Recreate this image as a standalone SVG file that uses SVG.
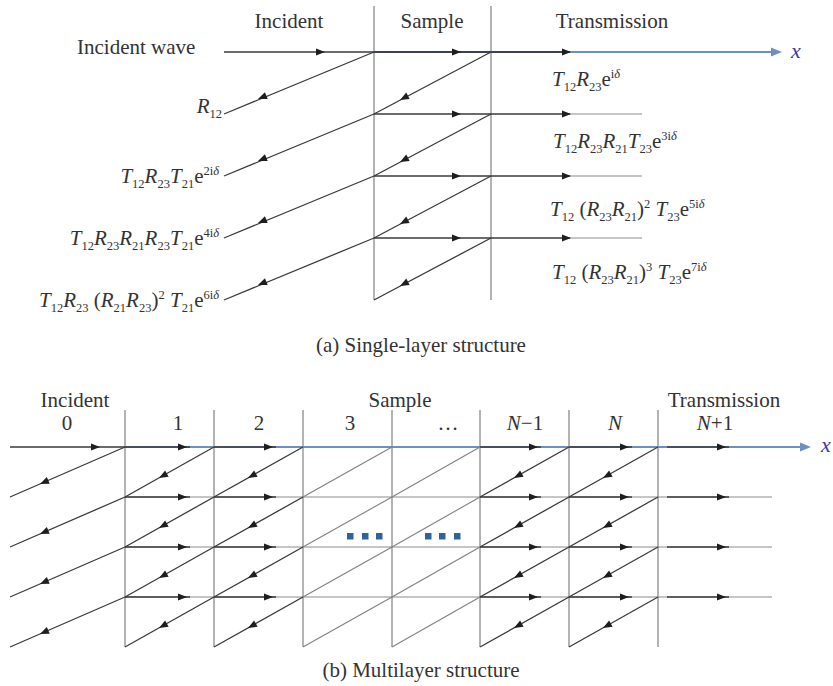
<svg xmlns="http://www.w3.org/2000/svg" width="833" height="686" viewBox="0 0 833 686">
<style>
.t{font-family:"Liberation Serif","Times New Roman",serif;font-size:21px;fill:#333}
.i{font-style:italic}
.sb{font-size:12.5px;baseline-shift:-5px}
.sp{font-size:12.5px;baseline-shift:8px}
.v{stroke:#8a8a8a;stroke-width:1.3;fill:none}
.d{stroke:#3a3a3a;stroke-width:1.3;fill:none}
.dk{stroke:#2a2a2a;stroke-width:1.7;fill:none}
.g{stroke:#8c8c8c;stroke-width:1.2;fill:none}
.lg{stroke:#808080;stroke-width:1.1;fill:none}
.ax{stroke:#6f8fc4;stroke-width:2.2;fill:none}
.ah{fill:#1e1e1e}
.bh{fill:#6f8fc4}
.xl{font-family:"Liberation Serif","Times New Roman",serif;font-size:22px;font-style:italic;fill:#3c3ca0}
.dot{fill:#2f62a0}
</style>
<defs>
<path id="ah" d="M0,0 L-9,-3.6 L-9,3.6 Z"/>
<path id="bh" d="M0,0 L-11,-4.5 L-11,4.5 Z"/>
</defs>

<!-- ================= (a) Single-layer ================= -->
<g id="a-structure">
  <g id="a-boundaries">
    <line class="v" x1="374" y1="6" x2="374" y2="300"/>
    <line class="v" x1="491" y1="6" x2="491" y2="300"/>
  </g>
  <g id="a-connectors">
    <!-- x axis -->
    <line class="ax" x1="374" y1="52" x2="772" y2="52"/>
    <use href="#bh" class="bh" transform="translate(782,52)"/>
    <!-- incident wave -->
    <line class="d" x1="224" y1="52" x2="374" y2="52"/>
    <line class="dk" x1="374" y1="52" x2="570" y2="52"/>
    <!-- transmitted rows -->
    <line class="d" x1="374" y1="114" x2="570" y2="114"/>
    <line class="g" x1="570" y1="114" x2="642" y2="114"/>
    <line class="d" x1="374" y1="176" x2="570" y2="176"/>
    <line class="g" x1="570" y1="176" x2="642" y2="176"/>
    <line class="d" x1="374" y1="238" x2="570" y2="238"/>
    <line class="g" x1="570" y1="238" x2="642" y2="238"/>
    <!-- sample diagonals -->
    <line class="d" x1="491" y1="52" x2="374" y2="114"/>
    <line class="d" x1="491" y1="114" x2="374" y2="176"/>
    <line class="d" x1="491" y1="176" x2="374" y2="238"/>
    <line class="d" x1="491" y1="238" x2="374" y2="300"/>
    <!-- reflected diagonals -->
    <line class="d" x1="374" y1="52" x2="224" y2="114"/>
    <line class="d" x1="374" y1="114" x2="224" y2="176"/>
    <line class="d" x1="374" y1="176" x2="224" y2="238"/>
    <line class="d" x1="374" y1="238" x2="224" y2="300"/>
    <!-- arrowheads -->
    <use href="#ah" class="ah" transform="translate(325,52)"/>
    <use href="#ah" class="ah" transform="translate(461,52)"/>
    <use href="#ah" class="ah" transform="translate(571,52)"/>
    <use href="#ah" class="ah" transform="translate(461,114)"/>
    <use href="#ah" class="ah" transform="translate(571,114)"/>
    <use href="#ah" class="ah" transform="translate(461,176)"/>
    <use href="#ah" class="ah" transform="translate(571,176)"/>
    <use href="#ah" class="ah" transform="translate(461,238)"/>
    <use href="#ah" class="ah" transform="translate(571,238)"/>
    <use href="#ah" class="ah" transform="translate(400,100) rotate(152)"/>
    <use href="#ah" class="ah" transform="translate(400,162) rotate(152)"/>
    <use href="#ah" class="ah" transform="translate(400,224) rotate(152)"/>
    <use href="#ah" class="ah" transform="translate(400,286) rotate(152)"/>
    <use href="#ah" class="ah" transform="translate(258,99) rotate(157.5)"/>
    <use href="#ah" class="ah" transform="translate(258,161) rotate(157.5)"/>
    <use href="#ah" class="ah" transform="translate(258,223) rotate(157.5)"/>
    <use href="#ah" class="ah" transform="translate(258,285) rotate(157.5)"/>
  </g>
  <g id="a-labels">
    <text class="t" x="289" y="28" text-anchor="middle">Incident</text>
    <text class="t" x="432" y="28" text-anchor="middle">Sample</text>
    <text class="t" x="612" y="28" text-anchor="middle">Transmission</text>
    <text class="t" x="77" y="54">Incident wave</text>
    <text class="xl" x="791" y="58">x</text>
    <text class="t" x="222" y="113" text-anchor="end"><tspan class="i">R</tspan><tspan class="sb">12</tspan></text>
    <text class="t" x="219" y="183" text-anchor="end"><tspan class="i">T</tspan><tspan class="sb">12</tspan><tspan class="i">R</tspan><tspan class="sb">23</tspan><tspan class="i">T</tspan><tspan class="sb">21</tspan>e<tspan class="sp">2i<tspan class="i">δ</tspan></tspan></text>
    <text class="t" x="219" y="245" text-anchor="end"><tspan class="i">T</tspan><tspan class="sb">12</tspan><tspan class="i">R</tspan><tspan class="sb">23</tspan><tspan class="i">R</tspan><tspan class="sb">21</tspan><tspan class="i">R</tspan><tspan class="sb">23</tspan><tspan class="i">T</tspan><tspan class="sb">21</tspan>e<tspan class="sp">4i<tspan class="i">δ</tspan></tspan></text>
    <text class="t" x="219" y="307" text-anchor="end"><tspan class="i">T</tspan><tspan class="sb">12</tspan><tspan class="i">R</tspan><tspan class="sb">23</tspan> (<tspan class="i">R</tspan><tspan class="sb">21</tspan><tspan class="i">R</tspan><tspan class="sb">23</tspan>)<tspan class="sp">2</tspan> <tspan class="i">T</tspan><tspan class="sb">21</tspan>e<tspan class="sp">6i<tspan class="i">δ</tspan></tspan></text>
    <text class="t" x="552" y="86"><tspan class="i">T</tspan><tspan class="sb">12</tspan><tspan class="i">R</tspan><tspan class="sb">23</tspan>e<tspan class="sp">i<tspan class="i">δ</tspan></tspan></text>
    <text class="t" x="553" y="148"><tspan class="i">T</tspan><tspan class="sb">12</tspan><tspan class="i">R</tspan><tspan class="sb">23</tspan><tspan class="i">R</tspan><tspan class="sb">21</tspan><tspan class="i">T</tspan><tspan class="sb">23</tspan>e<tspan class="sp">3i<tspan class="i">δ</tspan></tspan></text>
    <text class="t" x="550" y="216"><tspan class="i">T</tspan><tspan class="sb">12</tspan> (<tspan class="i">R</tspan><tspan class="sb">23</tspan><tspan class="i">R</tspan><tspan class="sb">21</tspan>)<tspan class="sp">2</tspan> <tspan class="i">T</tspan><tspan class="sb">23</tspan>e<tspan class="sp">5i<tspan class="i">δ</tspan></tspan></text>
    <text class="t" x="552" y="279"><tspan class="i">T</tspan><tspan class="sb">12</tspan> (<tspan class="i">R</tspan><tspan class="sb">23</tspan><tspan class="i">R</tspan><tspan class="sb">21</tspan>)<tspan class="sp">3</tspan> <tspan class="i">T</tspan><tspan class="sb">23</tspan>e<tspan class="sp">7i<tspan class="i">δ</tspan></tspan></text>
    <text class="t" x="421" y="352" text-anchor="middle">(a) Single-layer structure</text>
  </g>
</g>

<!-- ================= (b) Multilayer ================= -->
<g id="b-structure">
  <g id="b-boundaries">
    <line class="v" x1="125" y1="410" x2="125" y2="647"/>
    <line class="v" x1="214" y1="410" x2="214" y2="647"/>
    <line class="v" x1="303" y1="410" x2="303" y2="647"/>
    <line class="v" x1="392" y1="410" x2="392" y2="647"/>
    <line class="v" x1="480" y1="410" x2="480" y2="647"/>
    <line class="v" x1="569" y1="410" x2="569" y2="647"/>
    <line class="v" x1="658" y1="410" x2="658" y2="647"/>
  </g>
  <g id="b-connectors">
    <!-- rows -->
    <line class="g" x1="125" y1="497" x2="772" y2="497"/>
    <line class="g" x1="125" y1="547" x2="772" y2="547"/>
    <line class="g" x1="125" y1="597" x2="772" y2="597"/>
    <!-- x axis -->
    <line class="ax" x1="125" y1="447" x2="801" y2="447"/>
    <use href="#bh" class="bh" transform="translate(811,447)"/>
    <!-- incident -->
    <line class="d" x1="10" y1="447" x2="125" y2="447"/>
    <!-- dark forward segments -->
    <g class="d">
      <line x1="125" y1="447" x2="190" y2="447"/><line x1="214" y1="447" x2="276" y2="447"/>
      <line x1="480" y1="447" x2="541" y2="447"/><line x1="569" y1="447" x2="632" y2="447"/>
      <line x1="667" y1="447" x2="729" y2="447"/>
      <line x1="125" y1="497" x2="190" y2="497"/><line x1="214" y1="497" x2="276" y2="497"/>
      <line x1="480" y1="497" x2="541" y2="497"/><line x1="569" y1="497" x2="632" y2="497"/>
      <line x1="667" y1="497" x2="729" y2="497"/>
      <line x1="125" y1="547" x2="190" y2="547"/><line x1="214" y1="547" x2="276" y2="547"/>
      <line x1="480" y1="547" x2="541" y2="547"/><line x1="569" y1="547" x2="632" y2="547"/>
      <line x1="667" y1="547" x2="729" y2="547"/>
      <line x1="125" y1="597" x2="190" y2="597"/><line x1="214" y1="597" x2="276" y2="597"/>
      <line x1="480" y1="597" x2="541" y2="597"/><line x1="569" y1="597" x2="632" y2="597"/>
      <line x1="667" y1="597" x2="729" y2="597"/>
    </g>
    <!-- reflected diagonals in incident region -->
    <g class="d">
      <line x1="125" y1="447" x2="10" y2="497"/>
      <line x1="125" y1="497" x2="10" y2="547"/>
      <line x1="125" y1="547" x2="10" y2="597"/>
      <line x1="125" y1="597" x2="10" y2="647"/>
    </g>
    <!-- layer diagonals with arrows (1, 2, N-1, N) -->
    <g class="d">
      <line x1="214" y1="447" x2="125" y2="497"/><line x1="214" y1="497" x2="125" y2="547"/>
      <line x1="214" y1="547" x2="125" y2="597"/><line x1="214" y1="597" x2="125" y2="647"/>
      <line x1="303" y1="447" x2="214" y2="497"/><line x1="303" y1="497" x2="214" y2="547"/>
      <line x1="303" y1="547" x2="214" y2="597"/><line x1="303" y1="597" x2="214" y2="647"/>
      <line x1="569" y1="447" x2="480" y2="497"/><line x1="569" y1="497" x2="480" y2="547"/>
      <line x1="569" y1="547" x2="480" y2="597"/><line x1="569" y1="597" x2="480" y2="647"/>
      <line x1="658" y1="447" x2="569" y2="497"/><line x1="658" y1="497" x2="569" y2="547"/>
      <line x1="658" y1="547" x2="569" y2="597"/><line x1="658" y1="597" x2="569" y2="647"/>
    </g>
    <!-- layer diagonals without arrows (3, ...) -->
    <g class="lg">
      <line x1="392" y1="447" x2="303" y2="497"/><line x1="392" y1="497" x2="303" y2="547"/>
      <line x1="392" y1="547" x2="303" y2="597"/><line x1="392" y1="597" x2="303" y2="647"/>
      <line x1="480" y1="447" x2="392" y2="497"/><line x1="480" y1="497" x2="392" y2="547"/>
      <line x1="480" y1="547" x2="392" y2="597"/><line x1="480" y1="597" x2="392" y2="647"/>
    </g>
    <!-- forward arrowheads -->
    <g class="ah">
      <use href="#ah" transform="translate(100,447)"/>
      <use href="#ah" transform="translate(187,447)"/><use href="#ah" transform="translate(273,447)"/>
      <use href="#ah" transform="translate(538,447)"/><use href="#ah" transform="translate(629,447)"/>
      <use href="#ah" transform="translate(726,447)"/>
      <use href="#ah" transform="translate(187,497)"/><use href="#ah" transform="translate(273,497)"/>
      <use href="#ah" transform="translate(538,497)"/><use href="#ah" transform="translate(629,497)"/>
      <use href="#ah" transform="translate(726,497)"/>
      <use href="#ah" transform="translate(187,547)"/><use href="#ah" transform="translate(273,547)"/>
      <use href="#ah" transform="translate(538,547)"/><use href="#ah" transform="translate(629,547)"/>
      <use href="#ah" transform="translate(726,547)"/>
      <use href="#ah" transform="translate(187,597)"/><use href="#ah" transform="translate(273,597)"/>
      <use href="#ah" transform="translate(538,597)"/><use href="#ah" transform="translate(629,597)"/>
      <use href="#ah" transform="translate(726,597)"/>
    </g>
    <!-- backward arrowheads -->
    <g class="ah">
      <use href="#ah" transform="translate(40,484) rotate(156.5)"/>
      <use href="#ah" transform="translate(40,534) rotate(156.5)"/>
      <use href="#ah" transform="translate(40,584) rotate(156.5)"/>
      <use href="#ah" transform="translate(40,634) rotate(156.5)"/>
      <use href="#ah" transform="translate(159,478) rotate(150.7)"/>
      <use href="#ah" transform="translate(159,528) rotate(150.7)"/>
      <use href="#ah" transform="translate(159,578) rotate(150.7)"/>
      <use href="#ah" transform="translate(159,628) rotate(150.7)"/>
      <use href="#ah" transform="translate(248,478) rotate(150.7)"/>
      <use href="#ah" transform="translate(248,528) rotate(150.7)"/>
      <use href="#ah" transform="translate(248,578) rotate(150.7)"/>
      <use href="#ah" transform="translate(248,628) rotate(150.7)"/>
      <use href="#ah" transform="translate(514,478) rotate(150.7)"/>
      <use href="#ah" transform="translate(514,528) rotate(150.7)"/>
      <use href="#ah" transform="translate(514,578) rotate(150.7)"/>
      <use href="#ah" transform="translate(514,628) rotate(150.7)"/>
      <use href="#ah" transform="translate(603,478) rotate(150.7)"/>
      <use href="#ah" transform="translate(603,528) rotate(150.7)"/>
      <use href="#ah" transform="translate(603,578) rotate(150.7)"/>
      <use href="#ah" transform="translate(603,628) rotate(150.7)"/>
    </g>
  </g>
  <g id="b-ellipsis-dots" class="dot">
    <rect x="347" y="533" width="6.5" height="6.5"/>
    <rect x="362" y="533" width="6.5" height="6.5"/>
    <rect x="376" y="533" width="6.5" height="6.5"/>
    <rect x="425" y="533" width="6.5" height="6.5"/>
    <rect x="439" y="533" width="6.5" height="6.5"/>
    <rect x="454" y="533" width="6.5" height="6.5"/>
  </g>
  <g id="b-labels">
    <text class="t" x="75" y="407" text-anchor="middle">Incident</text>
    <text class="t" x="400" y="407" text-anchor="middle">Sample</text>
    <text class="t" x="724" y="407" text-anchor="middle">Transmission</text>
    <text class="t" x="67" y="430" text-anchor="middle">0</text>
    <text class="t" x="178" y="430" text-anchor="middle">1</text>
    <text class="t" x="259" y="430" text-anchor="middle">2</text>
    <text class="t" x="350" y="430" text-anchor="middle">3</text>
    <text class="t" x="448" y="430" text-anchor="middle">…</text>
    <text class="t" x="525" y="430" text-anchor="middle"><tspan class="i">N</tspan>−1</text>
    <text class="t" x="615" y="430" text-anchor="middle"><tspan class="i">N</tspan></text>
    <text class="t" x="715" y="430" text-anchor="middle"><tspan class="i">N</tspan>+1</text>
    <text class="xl" x="821" y="452">x</text>
    <text class="t" x="421" y="677" text-anchor="middle">(b) Multilayer structure</text>
  </g>
</g>
</svg>
